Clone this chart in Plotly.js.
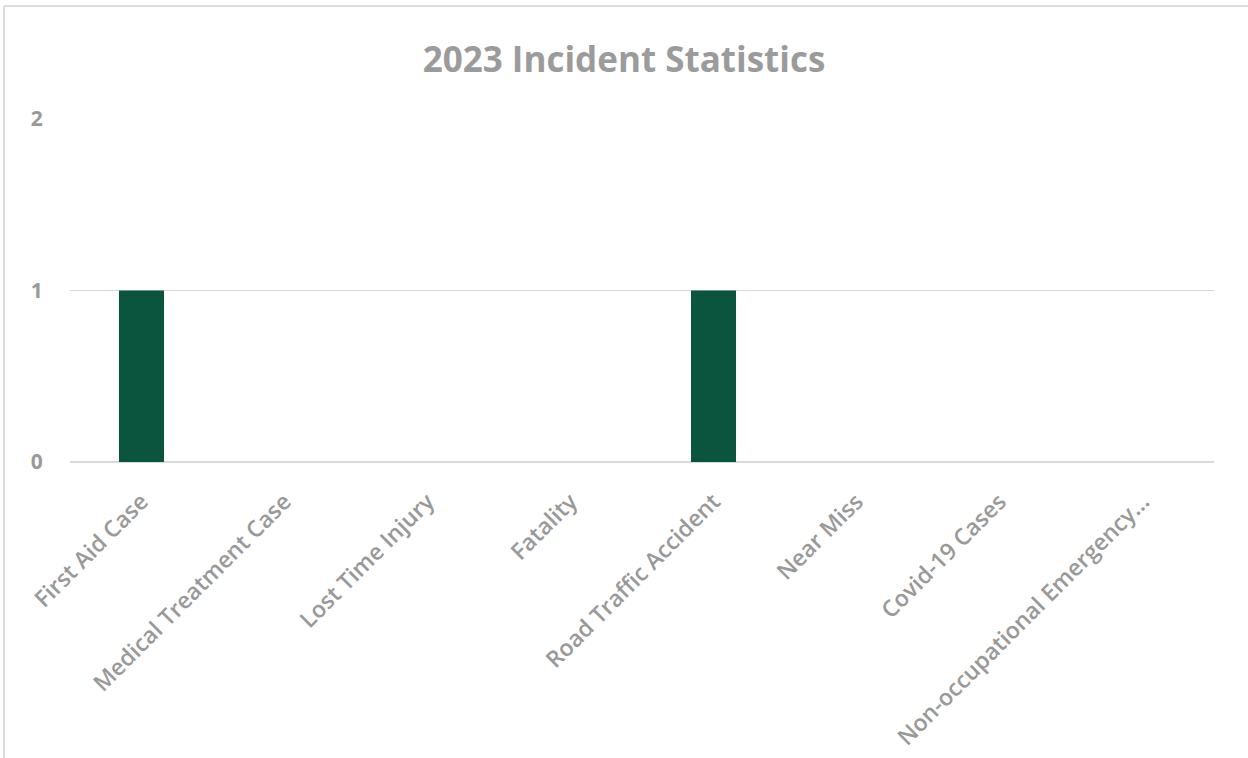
<!DOCTYPE html>
<html>
<head>
<meta charset="utf-8">
<script src="https://cdn.plot.ly/plotly-3.0.1.min.js"></script>
<style>html,body{margin:0;padding:0;background:#fff;}</style>
</head>
<body>
<div id="chart" style="width:1248px;height:758px;"></div>
<script>
const categories = ["First Aid Case", "Medical Treatment Case", "Lost Time Injury", "Fatality", "Road Traffic Accident", "Near Miss", "Covid-19 Cases", "Non-occupational Emergency..."];
const incidents = [1, 0, 0, 0, 1, 0, 0, 0];
const yTicks = [0, 1, 2];

const W = 1248, H = 758;
const L = 70, R = 1214, T = 119, B = 462;
const px2x = p => (p - L) / (R - L);
const px2y = p => (B - p) / (B - T);

const data = [{
  type: 'bar',
  x: categories,
  y: incidents,
  width: 0.315,
  marker: {color: '#0b543d', line: {width: 0}},
  hoverinfo: 'x+y'
}];

const gray = '#999999';
const font = '"Open Sans", Lato, sans-serif';
const layout = {
  width: W, height: H,
  margin: {l: L, r: W - R, t: T, b: H - B, pad: 0},
  paper_bgcolor: '#ffffff',
  plot_bgcolor: 'rgba(0,0,0,0)',
  showlegend: false,
  title: {
    text: '<b>2023 Incident Statistics</b>',
    font: {family: font, size: 35, color: '#9b9b9b'},
    x: 0.5, xanchor: 'center',
    y: 1 - 60 / H, yanchor: 'middle'
  },
  xaxis: {
    type: 'category',
    tickangle: -45,
    showgrid: false,
    showline: false,
    zeroline: false,
    ticks: 'outside',
    ticklen: 16,
    tickcolor: 'rgba(0,0,0,0)',
    tickfont: {family: font, size: 23, color: gray, weight: 600},
    automargin: false,
    range: [-0.5, 7.5]
  },
  yaxis: {
    range: [0, 2],
    tickvals: yTicks,
    ticktext: yTicks.map(String),
    showgrid: true,
    gridcolor: '#d9d9d9',
    gridwidth: 1.3,
    zeroline: true,
    zerolinecolor: '#d9d9d9',
    zerolinewidth: 1.3,
    showline: false,
    ticks: 'outside',
    ticklen: 22,
    tickcolor: 'rgba(0,0,0,0)',
    tickfont: {family: font, size: 21, color: gray, weight: 'bold'},
    automargin: false
  },
  shapes: [
    {type: 'line', xref: 'paper', yref: 'paper', x0: px2x(4), x1: px2x(W + 5), y0: px2y(6), y1: px2y(6), line: {color: '#dcdcdc', width: 2}},
    {type: 'line', xref: 'paper', yref: 'paper', x0: px2x(4), x1: px2x(4), y0: px2y(6), y1: px2y(H + 5), line: {color: '#dcdcdc', width: 2}}
  ]
};

Plotly.newPlot('chart', data, layout, {displayModeBar: false, staticPlot: true});
</script>
</body>
</html>
